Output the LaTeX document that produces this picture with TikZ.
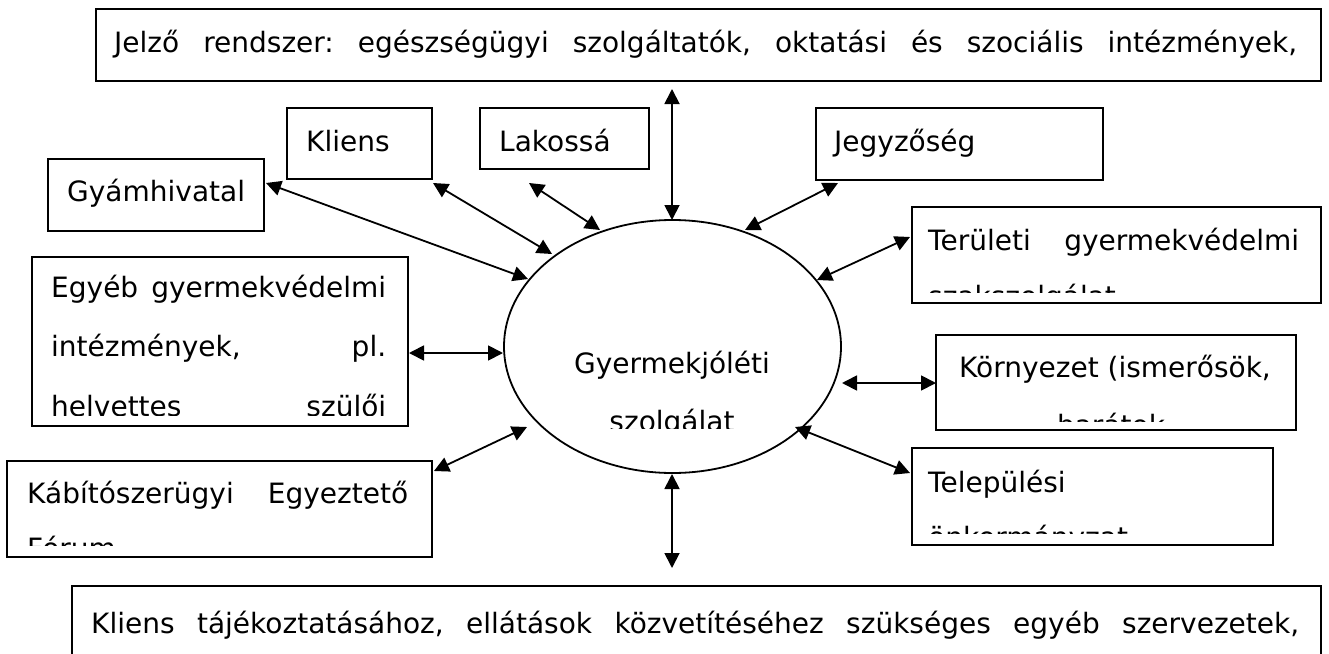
\documentclass[tikz,border=0pt]{standalone}
\usepackage{fontspec}
\setmainfont{DejaVu Sans}
\usetikzlibrary{shapes.geometric,arrows.meta}
\begin{document}
\begin{tikzpicture}[x=1pt,y=-1pt,
  box/.style={draw, line width=2pt, inner sep=0pt, outer sep=0pt, rectangle},
  txt/.style={inner sep=0pt, anchor=base west, font=\fontsize{28}{34}\selectfont},
  ctxt/.style={inner sep=0pt, anchor=base, font=\fontsize{28}{34}\selectfont},
  conn/.style={line width=1.8pt, {Triangle[length=15pt,width=15pt]}-{Triangle[length=15pt,width=15pt]}}]
\useasboundingbox (0,0) rectangle (1329,653);
\fill[white] (0,0) rectangle (1329,653);

% boxes
\node[box, minimum width=1225pt, minimum height=72pt] (jelzo) at (708.5,45) {};
\node[box, minimum width=145pt, minimum height=71pt] (kliens) at (359.5,143.5) {};
\node[box, minimum width=169pt, minimum height=61pt] (lakos) at (564.5,138.5) {};
\node[box, minimum width=216pt, minimum height=72pt] (gyam) at (156,195) {};
\node[box, minimum width=287pt, minimum height=72pt] (jegyzo) at (959.5,144) {};
\node[box, minimum width=409pt, minimum height=96pt] (terulet) at (1116.5,255) {};
\node[box, minimum width=376pt, minimum height=169pt] (egyeb) at (220,341.5) {};
\node[box, minimum width=360pt, minimum height=95pt] (kornyezet) at (1116,382.5) {};
\node[box, minimum width=361pt, minimum height=97pt] (telep) at (1092.5,496.5) {};
\node[box, minimum width=425pt, minimum height=96pt] (kabito) at (219.5,509) {};
\node[box, minimum width=1249pt, minimum height=134pt] (also) at (696.5,653) {};
\node[draw, ellipse, line width=1.8pt, inner sep=0pt, minimum width=337pt, minimum height=253pt] (gysz) at (672.5,346.5) {};

% texts
\node[txt] (tjelzo) at (114,52) {\hbox to 1183pt{Jelző\hfill rendszer:\hfill egészségügyi\hfill szolgáltatók,\hfill oktatási\hfill és\hfill szociális\hfill intézmények,}};
\node[txt] (tkliens) at (306,151) {Kliens};
\node[txt] (tlakos) at (499,151) {Lakossá};
\node[txt] (tgyam) at (67,201) {Gyámhivatal};
\node[txt] (tjegyzo) at (834,151) {Jegyzőség};
\node[txt] (tterulet1) at (928,250) {\hbox to 371pt{Területi\hfill gyermekvédelmi}};
\begin{scope}
  \clip (912,207) rectangle (1321,292);
  \node[txt] (tterulet2) at (928,306) {szakszolgálat};
\end{scope}
\node[txt] (tegyeb1) at (51,297) {\hbox to 335pt{Egyéb\hfill gyermekvédelmi}};
\node[txt] (tegyeb2) at (51,356) {\hbox to 335pt{intézmények,\hfill pl.}};
\begin{scope}
  \clip (32,257) rectangle (408,415);
  \node[txt] (tegyeb3) at (51,416) {\hbox to 335pt{helvettes\hfill szülői}};
\end{scope}
\node[ctxt] (tgysz1) at (672,373) {Gyermekjóléti};
\begin{scope}
  \clip (505,221) rectangle (840,428);
  \node[ctxt] (tgysz2) at (672,431) {szolgálat};
\end{scope}
\node[ctxt] (tkorny1) at (1115,377) {Környezet (ismerősök,};
\begin{scope}
  \clip (936,335) rectangle (1296,421);
  \node[ctxt] (tkorny2) at (1111,435) {barátok};
\end{scope}
\node[txt] (ttelep1) at (928,492) {Települési};
\begin{scope}
  \clip (912,448) rectangle (1273,533);
  \node[txt] (ttelep2) at (928,547) {önkormányzat};
\end{scope}
\node[txt] (tkabito1) at (27,503) {\hbox to 381pt{Kábítószerügyi\hfill Egyeztető}};
\begin{scope}
  \clip (7,461) rectangle (432,545);
  \node[txt] (tkabito2) at (27,558) {Fórum};
\end{scope}
\node[txt] (talso) at (91,633) {\hbox to 1208pt{Kliens\hfill tájékoztatásához,\hfill ellátások\hfill közvetítéséhez\hfill szükséges\hfill egyéb\hfill szervezetek,}};

% connector end points
\coordinate (cGyA) at (266,183);   \coordinate (cGyB) at (528,279);
\coordinate (cKlA) at (433,183);   \coordinate (cKlB) at (552,254);
\coordinate (cLaA) at (529,183);   \coordinate (cLaB) at (600,230);
\coordinate (cJeA) at (672,89);    \coordinate (cJeB) at (672,220);
\coordinate (cJgA) at (838,183);   \coordinate (cJgB) at (745,230);
\coordinate (cTeA) at (910,237);   \coordinate (cTeB) at (817,280);
\coordinate (cEgA) at (409,353);   \coordinate (cEgB) at (503,353);
\coordinate (cKoA) at (936,383);   \coordinate (cKoB) at (842,383);
\coordinate (cTlA) at (910,473);   \coordinate (cTlB) at (795,427);
\coordinate (cKaA) at (434,471);   \coordinate (cKaB) at (527,427);
\coordinate (cAlA) at (672,568);   \coordinate (cAlB) at (672,474);

\draw[conn] (cGyA) -- (cGyB);
\draw[conn] (cKlA) -- (cKlB);
\draw[conn] (cLaA) -- (cLaB);
\draw[conn] (cJeA) -- (cJeB);
\draw[conn] (cJgA) -- (cJgB);
\draw[conn] (cTeA) -- (cTeB);
\draw[conn] (cEgA) -- (cEgB);
\draw[conn] (cKoA) -- (cKoB);
\draw[conn] (cTlA) -- (cTlB);
\draw[conn] (cKaA) -- (cKaB);
\draw[conn] (cAlA) -- (cAlB);
\end{tikzpicture}
\end{document}
